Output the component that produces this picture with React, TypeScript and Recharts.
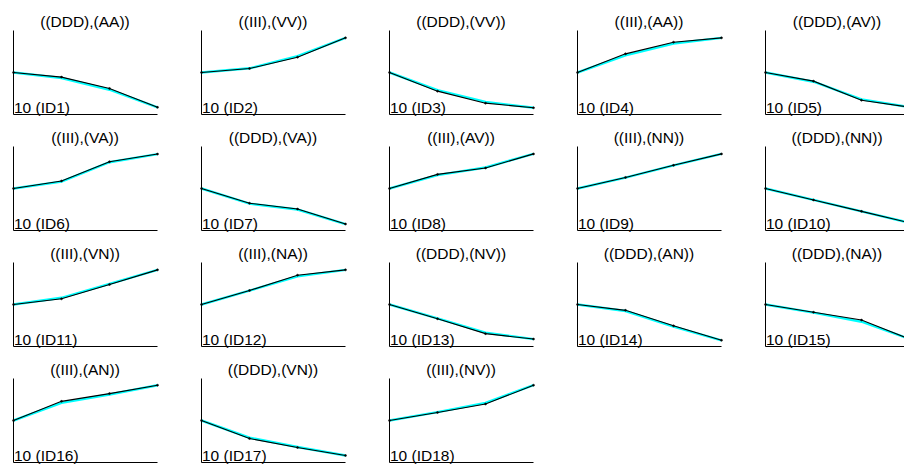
import React from "react"
import { LineChart, Line, XAxis, YAxis } from "recharts"

// x positions of the four steps in every panel
const steps = [0, 1, 2, 3]

const titles = [
    "((DDD),(AA))", "((III),(VV))", "((DDD),(VV))", "((III),(AA))", "((DDD),(AV))",
    "((III),(VA))", "((DDD),(VA))", "((III),(AV))", "((III),(NN))", "((DDD),(NN))",
    "((III),(VN))", "((III),(NA))", "((DDD),(NV))", "((DDD),(AN))", "((DDD),(NA))",
    "((III),(AN))", "((DDD),(VN))", "((III),(NV))"
]

const idLabels = [
    "10 (ID1)", "10 (ID2)", "10 (ID3)", "10 (ID4)", "10 (ID5)",
    "10 (ID6)", "10 (ID7)", "10 (ID8)", "10 (ID9)", "10 (ID10)",
    "10 (ID11)", "10 (ID12)", "10 (ID13)", "10 (ID14)", "10 (ID15)",
    "10 (ID16)", "10 (ID17)", "10 (ID18)"
]

// black series (with dots)
const measured = [
    [1, 0.89, 0.62, 0.17],
    [1, 1.095, 1.365, 1.825],
    [1, 0.556, 0.27, 0.16],
    [1, 1.444, 1.722, 1.825],
    [1, 0.794, 0.341, 0.175],
    [1, 1.18, 1.638, 1.82],
    [1, 0.65, 0.512, 0.154],
    [1, 1.336, 1.488, 1.824],
    [1, 1.264, 1.552, 1.824],
    [1, 0.728, 0.456, 0.184],
    [1, 1.135, 1.476, 1.825],
    [1, 1.333, 1.698, 1.825],
    [1, 0.661, 0.306, 0.177],
    [1, 0.861, 0.492, 0.148],
    [1, 0.815, 0.629, 0.177],
    [1, 1.456, 1.64, 1.84],
    [1, 0.571, 0.357, 0.167],
    [1, 1.192, 1.392, 1.84]
]

// cyan series (drawn underneath)
const fitted = [
    [1, 0.87, 0.59, 0.17],
    [1, 1.1, 1.39, 1.825],
    [1, 0.58, 0.3, 0.16],
    [1, 1.41, 1.69, 1.825],
    [1, 0.78, 0.36, 0.175],
    [1, 1.165, 1.625, 1.82],
    [1, 0.64, 0.5, 0.154],
    [1, 1.32, 1.5, 1.824],
    [1, 1.26, 1.55, 1.824],
    [1, 0.728, 0.456, 0.184],
    [1, 1.16, 1.49, 1.825],
    [1, 1.33, 1.67, 1.825],
    [1, 0.67, 0.33, 0.177],
    [1, 0.845, 0.475, 0.148],
    [1, 0.805, 0.59, 0.177],
    [1, 1.42, 1.62, 1.84],
    [1, 0.59, 0.37, 0.167],
    [1, 1.2, 1.42, 1.84]
]

const PLOT_W = 144
const PLOT_H = 84
const PAD = 4
const AXIS = 1
const FONT = "'Liberation Sans', Arial, Helvetica, sans-serif"

function Panel({ index }: { index: number }) {
    const col = index % 5
    const row = Math.floor(index / 5)
    const left = Math.round(13 + 188.1 * col)
    const top = Math.round(30 + 115.9 * row)

    const data = steps.map((x, i) => ({
        x,
        black: measured[index][i],
        cyan: fitted[index][i]
    }))

    return (
        <>
            <div
                style={{
                    position: "absolute",
                    left: left,
                    top: top - 16,
                    width: PLOT_W,
                    textAlign: "center",
                    fontFamily: FONT,
                    fontSize: 15.5,
                    lineHeight: "15.5px",
                    color: "#000",
                    whiteSpace: "nowrap"
                }}
            >
                {titles[index]}
            </div>
            <div style={{ position: "absolute", left: left - PAD - AXIS, top: top - PAD }}>
                {/* half-pixel margins keep the 1px axis lines crisp */}
                <LineChart
                    width={PLOT_W + 2 * PAD + AXIS}
                    height={PLOT_H + 2 * PAD + AXIS}
                    data={data}
                    margin={{ top: PAD + 0.5, right: PAD - 0.5, bottom: PAD - 0.5, left: PAD + 0.5 }}
                >
                    <XAxis
                        type="number"
                        dataKey="x"
                        domain={[0, 3]}
                        tick={false}
                        tickLine={false}
                        height={AXIS}
                        axisLine={{ stroke: "#000", strokeWidth: 1 }}
                    />
                    <YAxis
                        type="number"
                        domain={[0, 2]}
                        tick={false}
                        tickLine={false}
                        width={AXIS}
                        axisLine={{ stroke: "#000", strokeWidth: 1 }}
                    />
                    <Line
                        dataKey="cyan"
                        stroke="#00ffff"
                        strokeWidth={2.4}
                        dot={false}
                        isAnimationActive={false}
                    />
                    <Line
                        dataKey="black"
                        stroke="#000"
                        strokeWidth={1.1}
                        dot={{ r: 1, fill: "#000", stroke: "#000", strokeWidth: 0.5 }}
                        isAnimationActive={false}
                    />
                </LineChart>
            </div>
            <div
                style={{
                    position: "absolute",
                    left: left + 1,
                    top: top + PLOT_H - 14,
                    fontFamily: FONT,
                    fontSize: 15.5,
                    lineHeight: "15.5px",
                    color: "#000",
                    whiteSpace: "nowrap"
                }}
            >
                {idLabels[index]}
            </div>
        </>
    )
}

export default function App() {
    return (
        <div
            style={{
                position: "absolute",
                left: 0,
                top: 0,
                width: 904,
                height: 464,
                overflow: "hidden",
                background: "#fff"
            }}
        >
            {titles.map((t, i) => (
                <Panel key={t + i} index={i} />
            ))}
        </div>
    )
}
